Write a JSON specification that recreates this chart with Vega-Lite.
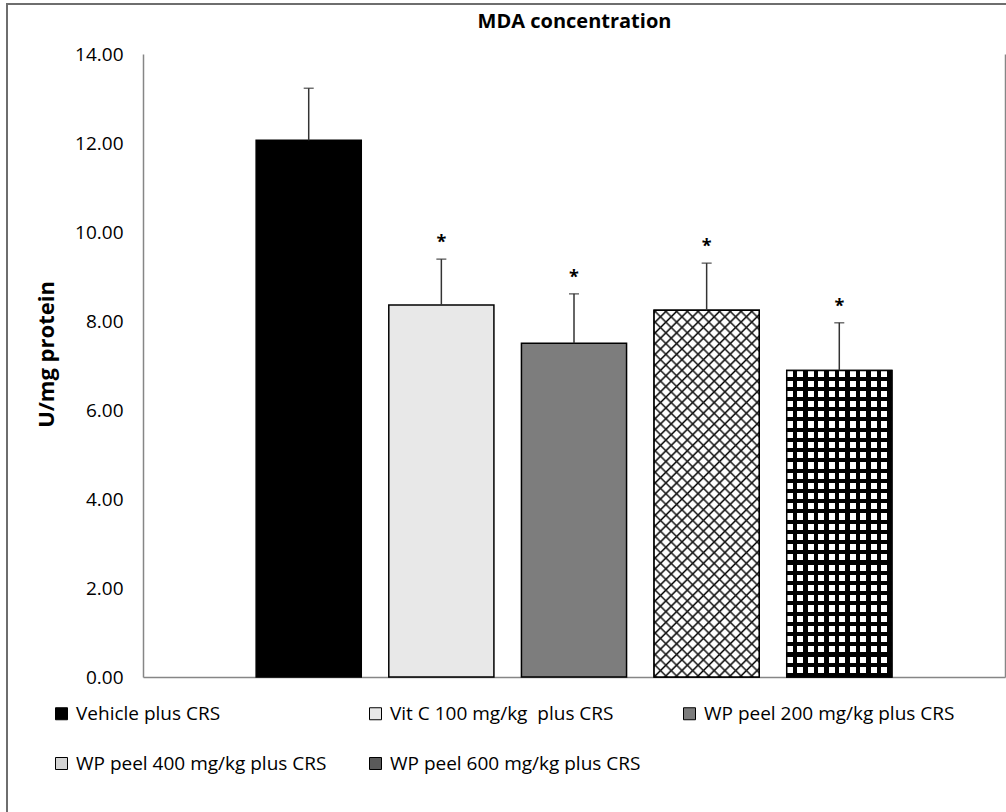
{
  "$schema": "https://vega.github.io/schema/vega-lite/v6.json",
  "width": 1009,
  "height": 818,
  "autosize": {"type": "none"},
  "padding": {"left": 7, "top": 4, "right": -10, "bottom": -10},
  "background": "white",
  "config": {
    "view": {"stroke": "#6e6e6e", "strokeWidth": 2},
    "font": "Open Sans"
  },
  "title": {
    "text": "MDA concentration",
    "font": "Open Sans",
    "fontSize": 20,
    "fontWeight": "bold",
    "color": "#000000",
    "anchor": "middle",
    "frame": "group",
    "baseline": "middle",
    "offset": 0,
    "dx": 63,
    "dy": 38
  },
  "data": {
    "values": [
      {"group": "Vehicle plus CRS", "mean": 12.06, "upper": 13.23, "star": ""},
      {"group": "Vit C 100 mg/kg\u00a0 plus CRS", "mean": 8.36, "upper": 9.39, "star": "*"},
      {"group": "WP peel 200 mg/kg plus CRS", "mean": 7.50, "upper": 8.61, "star": "*"},
      {"group": "WP peel 400 mg/kg plus CRS", "mean": 8.24, "upper": 9.30, "star": "*"},
      {"group": "WP peel 600 mg/kg plus CRS", "mean": 6.89, "upper": 7.96, "star": "*"}
    ]
  },
  "encoding": {
    "x": {
      "field": "group",
      "type": "nominal",
      "sort": null,
      "scale": {"range": [136, 998], "paddingInner": 0.2075, "paddingOuter": 0.853},
      "axis": {
        "orient": "bottom",
        "offset": -145,
        "labels": false,
        "ticks": false,
        "grid": false,
        "title": null,
        "domainColor": "#868686",
        "domainWidth": 1.5
      }
    }
  },
  "layer": [
    {
      "mark": {"type": "bar", "stroke": "#000000", "strokeWidth": 1.5},
      "encoding": {
        "y": {
          "field": "mean",
          "type": "quantitative",
          "scale": {"domain": [0, 14], "range": [673, 50], "nice": false, "zero": true},
          "axis": {
            "orient": "left",
            "offset": -136,
            "values": [0, 2, 4, 6, 8, 10, 12, 14],
            "format": ".2f",
            "ticks": false,
            "grid": false,
            "domainColor": "#868686",
            "domainWidth": 1.5,
            "labelFont": "Open Sans",
            "labelFontSize": 19,
            "labelColor": "#000000",
            "labelPadding": 20,
            "title": "U/mg protein",
            "titleFont": "Open Sans",
            "titleFontSize": 22,
            "titleFontWeight": "bold",
            "titleColor": "#000000",
            "titlePadding": 16,
            "titleY": 350
          }
        },
        "fill": {
          "field": "group",
          "type": "nominal",
          "scale": {
            "domain": ["Vehicle plus CRS", "Vit C 100 mg/kg\u00a0 plus CRS", "WP peel 200 mg/kg plus CRS", "WP peel 400 mg/kg plus CRS", "WP peel 600 mg/kg plus CRS"],
            "range": ["#000000", "#e8e8e8", "#7d7d7d", "#d4d4d4", "#5a5a5a"]
          },
          "legend": {
            "orient": "none",
            "legendX": 45,
            "legendY": 700,
            "direction": "horizontal",
            "columns": 3,
            "gridAlign": "all",
            "columnPadding": 39,
            "rowPadding": 30,
            "title": null,
            "symbolType": "square",
            "symbolSize": 144,
            "symbolStrokeColor": "#000000",
            "symbolStrokeWidth": 1,
            "labelFont": "Open Sans",
            "labelFontSize": 19,
            "labelColor": "#000000",
            "labelLimit": 0,
            "labelOffset": 5
          }
        }
      }
    },
    {
      "transform": [{"filter": "datum.group == 'WP peel 400 mg/kg plus CRS'"}],
      "mark": {
        "type": "bar",
        "stroke": null,
        "fill": {
          "gradient": "linear", "x1": 0, "y1": 0, "x2": 0.3404, "y2": 1.189,
          "stops": [
            {"offset": 0, "color": "#ffffff"}, {"offset": 0.0045, "color": "#000000"}, {"offset": 0.009, "color": "#ffffff"},
            {"offset": 0.02273, "color": "#ffffff"}, {"offset": 0.02723, "color": "#000000"}, {"offset": 0.03173, "color": "#ffffff"},
            {"offset": 0.04545, "color": "#ffffff"}, {"offset": 0.04995, "color": "#000000"}, {"offset": 0.05445, "color": "#ffffff"},
            {"offset": 0.06818, "color": "#ffffff"}, {"offset": 0.07268, "color": "#000000"}, {"offset": 0.07718, "color": "#ffffff"},
            {"offset": 0.09091, "color": "#ffffff"}, {"offset": 0.09541, "color": "#000000"}, {"offset": 0.09991, "color": "#ffffff"},
            {"offset": 0.11364, "color": "#ffffff"}, {"offset": 0.11814, "color": "#000000"}, {"offset": 0.12264, "color": "#ffffff"},
            {"offset": 0.13636, "color": "#ffffff"}, {"offset": 0.14086, "color": "#000000"}, {"offset": 0.14536, "color": "#ffffff"},
            {"offset": 0.15909, "color": "#ffffff"}, {"offset": 0.16359, "color": "#000000"}, {"offset": 0.16809, "color": "#ffffff"},
            {"offset": 0.18182, "color": "#ffffff"}, {"offset": 0.18632, "color": "#000000"}, {"offset": 0.19082, "color": "#ffffff"},
            {"offset": 0.20455, "color": "#ffffff"}, {"offset": 0.20905, "color": "#000000"}, {"offset": 0.21355, "color": "#ffffff"},
            {"offset": 0.22727, "color": "#ffffff"}, {"offset": 0.23177, "color": "#000000"}, {"offset": 0.23627, "color": "#ffffff"},
            {"offset": 0.25, "color": "#ffffff"}, {"offset": 0.2545, "color": "#000000"}, {"offset": 0.259, "color": "#ffffff"},
            {"offset": 0.27273, "color": "#ffffff"}, {"offset": 0.27723, "color": "#000000"}, {"offset": 0.28173, "color": "#ffffff"},
            {"offset": 0.29545, "color": "#ffffff"}, {"offset": 0.29995, "color": "#000000"}, {"offset": 0.30445, "color": "#ffffff"},
            {"offset": 0.31818, "color": "#ffffff"}, {"offset": 0.32268, "color": "#000000"}, {"offset": 0.32718, "color": "#ffffff"},
            {"offset": 0.34091, "color": "#ffffff"}, {"offset": 0.34541, "color": "#000000"}, {"offset": 0.34991, "color": "#ffffff"},
            {"offset": 0.36364, "color": "#ffffff"}, {"offset": 0.36814, "color": "#000000"}, {"offset": 0.37264, "color": "#ffffff"},
            {"offset": 0.38636, "color": "#ffffff"}, {"offset": 0.39086, "color": "#000000"}, {"offset": 0.39536, "color": "#ffffff"},
            {"offset": 0.40909, "color": "#ffffff"}, {"offset": 0.41359, "color": "#000000"}, {"offset": 0.41809, "color": "#ffffff"},
            {"offset": 0.43182, "color": "#ffffff"}, {"offset": 0.43632, "color": "#000000"}, {"offset": 0.44082, "color": "#ffffff"},
            {"offset": 0.45455, "color": "#ffffff"}, {"offset": 0.45905, "color": "#000000"}, {"offset": 0.46355, "color": "#ffffff"},
            {"offset": 0.47727, "color": "#ffffff"}, {"offset": 0.48177, "color": "#000000"}, {"offset": 0.48627, "color": "#ffffff"},
            {"offset": 0.5, "color": "#ffffff"}, {"offset": 0.5045, "color": "#000000"}, {"offset": 0.509, "color": "#ffffff"},
            {"offset": 0.52273, "color": "#ffffff"}, {"offset": 0.52723, "color": "#000000"}, {"offset": 0.53173, "color": "#ffffff"},
            {"offset": 0.54545, "color": "#ffffff"}, {"offset": 0.54995, "color": "#000000"}, {"offset": 0.55445, "color": "#ffffff"},
            {"offset": 0.56818, "color": "#ffffff"}, {"offset": 0.57268, "color": "#000000"}, {"offset": 0.57718, "color": "#ffffff"},
            {"offset": 0.59091, "color": "#ffffff"}, {"offset": 0.59541, "color": "#000000"}, {"offset": 0.59991, "color": "#ffffff"},
            {"offset": 0.61364, "color": "#ffffff"}, {"offset": 0.61814, "color": "#000000"}, {"offset": 0.62264, "color": "#ffffff"},
            {"offset": 0.63636, "color": "#ffffff"}, {"offset": 0.64086, "color": "#000000"}, {"offset": 0.64536, "color": "#ffffff"},
            {"offset": 0.65909, "color": "#ffffff"}, {"offset": 0.66359, "color": "#000000"}, {"offset": 0.66809, "color": "#ffffff"},
            {"offset": 0.68182, "color": "#ffffff"}, {"offset": 0.68632, "color": "#000000"}, {"offset": 0.69082, "color": "#ffffff"},
            {"offset": 0.70455, "color": "#ffffff"}, {"offset": 0.70905, "color": "#000000"}, {"offset": 0.71355, "color": "#ffffff"},
            {"offset": 0.72727, "color": "#ffffff"}, {"offset": 0.73177, "color": "#000000"}, {"offset": 0.73627, "color": "#ffffff"},
            {"offset": 0.75, "color": "#ffffff"}, {"offset": 0.7545, "color": "#000000"}, {"offset": 0.759, "color": "#ffffff"},
            {"offset": 0.77273, "color": "#ffffff"}, {"offset": 0.77723, "color": "#000000"}, {"offset": 0.78173, "color": "#ffffff"},
            {"offset": 0.79545, "color": "#ffffff"}, {"offset": 0.79995, "color": "#000000"}, {"offset": 0.80445, "color": "#ffffff"},
            {"offset": 0.81818, "color": "#ffffff"}, {"offset": 0.82268, "color": "#000000"}, {"offset": 0.82718, "color": "#ffffff"},
            {"offset": 0.84091, "color": "#ffffff"}, {"offset": 0.84541, "color": "#000000"}, {"offset": 0.84991, "color": "#ffffff"},
            {"offset": 0.86364, "color": "#ffffff"}, {"offset": 0.86814, "color": "#000000"}, {"offset": 0.87264, "color": "#ffffff"},
            {"offset": 0.88636, "color": "#ffffff"}, {"offset": 0.89086, "color": "#000000"}, {"offset": 0.89536, "color": "#ffffff"},
            {"offset": 0.90909, "color": "#ffffff"}, {"offset": 0.91359, "color": "#000000"}, {"offset": 0.91809, "color": "#ffffff"},
            {"offset": 0.93182, "color": "#ffffff"}, {"offset": 0.93632, "color": "#000000"}, {"offset": 0.94082, "color": "#ffffff"},
            {"offset": 0.95455, "color": "#ffffff"}, {"offset": 0.95905, "color": "#000000"}, {"offset": 0.96355, "color": "#ffffff"},
            {"offset": 0.97727, "color": "#ffffff"}, {"offset": 0.98177, "color": "#000000"}, {"offset": 0.98627, "color": "#ffffff"},
            {"offset": 1, "color": "#ffffff"}
          ]
        }
      },
      "encoding": {
        "y": {"field": "mean", "type": "quantitative", "axis": null}
      }
    },
    {
      "transform": [{"filter": "datum.group == 'WP peel 400 mg/kg plus CRS'"}],
      "mark": {
        "type": "bar",
        "stroke": "#000000",
        "strokeWidth": 1.5,
        "fill": {
          "gradient": "linear", "x1": 0, "y1": 1, "x2": 0.3404, "y2": -0.189,
          "stops": [
            {"offset": 0, "color": "rgba(0,0,0,0)"}, {"offset": 0.0045, "color": "#222222"}, {"offset": 0.009, "color": "rgba(0,0,0,0)"},
            {"offset": 0.02273, "color": "rgba(0,0,0,0)"}, {"offset": 0.02723, "color": "#222222"}, {"offset": 0.03173, "color": "rgba(0,0,0,0)"},
            {"offset": 0.04545, "color": "rgba(0,0,0,0)"}, {"offset": 0.04995, "color": "#222222"}, {"offset": 0.05445, "color": "rgba(0,0,0,0)"},
            {"offset": 0.06818, "color": "rgba(0,0,0,0)"}, {"offset": 0.07268, "color": "#222222"}, {"offset": 0.07718, "color": "rgba(0,0,0,0)"},
            {"offset": 0.09091, "color": "rgba(0,0,0,0)"}, {"offset": 0.09541, "color": "#222222"}, {"offset": 0.09991, "color": "rgba(0,0,0,0)"},
            {"offset": 0.11364, "color": "rgba(0,0,0,0)"}, {"offset": 0.11814, "color": "#222222"}, {"offset": 0.12264, "color": "rgba(0,0,0,0)"},
            {"offset": 0.13636, "color": "rgba(0,0,0,0)"}, {"offset": 0.14086, "color": "#222222"}, {"offset": 0.14536, "color": "rgba(0,0,0,0)"},
            {"offset": 0.15909, "color": "rgba(0,0,0,0)"}, {"offset": 0.16359, "color": "#222222"}, {"offset": 0.16809, "color": "rgba(0,0,0,0)"},
            {"offset": 0.18182, "color": "rgba(0,0,0,0)"}, {"offset": 0.18632, "color": "#222222"}, {"offset": 0.19082, "color": "rgba(0,0,0,0)"},
            {"offset": 0.20455, "color": "rgba(0,0,0,0)"}, {"offset": 0.20905, "color": "#222222"}, {"offset": 0.21355, "color": "rgba(0,0,0,0)"},
            {"offset": 0.22727, "color": "rgba(0,0,0,0)"}, {"offset": 0.23177, "color": "#222222"}, {"offset": 0.23627, "color": "rgba(0,0,0,0)"},
            {"offset": 0.25, "color": "rgba(0,0,0,0)"}, {"offset": 0.2545, "color": "#222222"}, {"offset": 0.259, "color": "rgba(0,0,0,0)"},
            {"offset": 0.27273, "color": "rgba(0,0,0,0)"}, {"offset": 0.27723, "color": "#222222"}, {"offset": 0.28173, "color": "rgba(0,0,0,0)"},
            {"offset": 0.29545, "color": "rgba(0,0,0,0)"}, {"offset": 0.29995, "color": "#222222"}, {"offset": 0.30445, "color": "rgba(0,0,0,0)"},
            {"offset": 0.31818, "color": "rgba(0,0,0,0)"}, {"offset": 0.32268, "color": "#222222"}, {"offset": 0.32718, "color": "rgba(0,0,0,0)"},
            {"offset": 0.34091, "color": "rgba(0,0,0,0)"}, {"offset": 0.34541, "color": "#222222"}, {"offset": 0.34991, "color": "rgba(0,0,0,0)"},
            {"offset": 0.36364, "color": "rgba(0,0,0,0)"}, {"offset": 0.36814, "color": "#222222"}, {"offset": 0.37264, "color": "rgba(0,0,0,0)"},
            {"offset": 0.38636, "color": "rgba(0,0,0,0)"}, {"offset": 0.39086, "color": "#222222"}, {"offset": 0.39536, "color": "rgba(0,0,0,0)"},
            {"offset": 0.40909, "color": "rgba(0,0,0,0)"}, {"offset": 0.41359, "color": "#222222"}, {"offset": 0.41809, "color": "rgba(0,0,0,0)"},
            {"offset": 0.43182, "color": "rgba(0,0,0,0)"}, {"offset": 0.43632, "color": "#222222"}, {"offset": 0.44082, "color": "rgba(0,0,0,0)"},
            {"offset": 0.45455, "color": "rgba(0,0,0,0)"}, {"offset": 0.45905, "color": "#222222"}, {"offset": 0.46355, "color": "rgba(0,0,0,0)"},
            {"offset": 0.47727, "color": "rgba(0,0,0,0)"}, {"offset": 0.48177, "color": "#222222"}, {"offset": 0.48627, "color": "rgba(0,0,0,0)"},
            {"offset": 0.5, "color": "rgba(0,0,0,0)"}, {"offset": 0.5045, "color": "#222222"}, {"offset": 0.509, "color": "rgba(0,0,0,0)"},
            {"offset": 0.52273, "color": "rgba(0,0,0,0)"}, {"offset": 0.52723, "color": "#222222"}, {"offset": 0.53173, "color": "rgba(0,0,0,0)"},
            {"offset": 0.54545, "color": "rgba(0,0,0,0)"}, {"offset": 0.54995, "color": "#222222"}, {"offset": 0.55445, "color": "rgba(0,0,0,0)"},
            {"offset": 0.56818, "color": "rgba(0,0,0,0)"}, {"offset": 0.57268, "color": "#222222"}, {"offset": 0.57718, "color": "rgba(0,0,0,0)"},
            {"offset": 0.59091, "color": "rgba(0,0,0,0)"}, {"offset": 0.59541, "color": "#222222"}, {"offset": 0.59991, "color": "rgba(0,0,0,0)"},
            {"offset": 0.61364, "color": "rgba(0,0,0,0)"}, {"offset": 0.61814, "color": "#222222"}, {"offset": 0.62264, "color": "rgba(0,0,0,0)"},
            {"offset": 0.63636, "color": "rgba(0,0,0,0)"}, {"offset": 0.64086, "color": "#222222"}, {"offset": 0.64536, "color": "rgba(0,0,0,0)"},
            {"offset": 0.65909, "color": "rgba(0,0,0,0)"}, {"offset": 0.66359, "color": "#222222"}, {"offset": 0.66809, "color": "rgba(0,0,0,0)"},
            {"offset": 0.68182, "color": "rgba(0,0,0,0)"}, {"offset": 0.68632, "color": "#222222"}, {"offset": 0.69082, "color": "rgba(0,0,0,0)"},
            {"offset": 0.70455, "color": "rgba(0,0,0,0)"}, {"offset": 0.70905, "color": "#222222"}, {"offset": 0.71355, "color": "rgba(0,0,0,0)"},
            {"offset": 0.72727, "color": "rgba(0,0,0,0)"}, {"offset": 0.73177, "color": "#222222"}, {"offset": 0.73627, "color": "rgba(0,0,0,0)"},
            {"offset": 0.75, "color": "rgba(0,0,0,0)"}, {"offset": 0.7545, "color": "#222222"}, {"offset": 0.759, "color": "rgba(0,0,0,0)"},
            {"offset": 0.77273, "color": "rgba(0,0,0,0)"}, {"offset": 0.77723, "color": "#222222"}, {"offset": 0.78173, "color": "rgba(0,0,0,0)"},
            {"offset": 0.79545, "color": "rgba(0,0,0,0)"}, {"offset": 0.79995, "color": "#222222"}, {"offset": 0.80445, "color": "rgba(0,0,0,0)"},
            {"offset": 0.81818, "color": "rgba(0,0,0,0)"}, {"offset": 0.82268, "color": "#222222"}, {"offset": 0.82718, "color": "rgba(0,0,0,0)"},
            {"offset": 0.84091, "color": "rgba(0,0,0,0)"}, {"offset": 0.84541, "color": "#222222"}, {"offset": 0.84991, "color": "rgba(0,0,0,0)"},
            {"offset": 0.86364, "color": "rgba(0,0,0,0)"}, {"offset": 0.86814, "color": "#222222"}, {"offset": 0.87264, "color": "rgba(0,0,0,0)"},
            {"offset": 0.88636, "color": "rgba(0,0,0,0)"}, {"offset": 0.89086, "color": "#222222"}, {"offset": 0.89536, "color": "rgba(0,0,0,0)"},
            {"offset": 0.90909, "color": "rgba(0,0,0,0)"}, {"offset": 0.91359, "color": "#222222"}, {"offset": 0.91809, "color": "rgba(0,0,0,0)"},
            {"offset": 0.93182, "color": "rgba(0,0,0,0)"}, {"offset": 0.93632, "color": "#222222"}, {"offset": 0.94082, "color": "rgba(0,0,0,0)"},
            {"offset": 0.95455, "color": "rgba(0,0,0,0)"}, {"offset": 0.95905, "color": "#222222"}, {"offset": 0.96355, "color": "rgba(0,0,0,0)"},
            {"offset": 0.97727, "color": "rgba(0,0,0,0)"}, {"offset": 0.98177, "color": "#222222"}, {"offset": 0.98627, "color": "rgba(0,0,0,0)"},
            {"offset": 1, "color": "rgba(0,0,0,0)"}
          ]
        }
      },
      "encoding": {
        "y": {"field": "mean", "type": "quantitative", "axis": null}
      }
    },
    {
      "transform": [{"filter": "datum.group == 'WP peel 600 mg/kg plus CRS'"}],
      "mark": {
        "type": "bar",
        "stroke": null,
        "fill": {
          "gradient": "linear", "x1": 0, "y1": 0, "x2": 0, "y2": 1,
          "stops": [
            {"offset": 0, "color": "#ffffff"}, {"offset": 0.02, "color": "#ffffff"}, {"offset": 0.02, "color": "#000000"}, {"offset": 0.03333, "color": "#000000"},
            {"offset": 0.03333, "color": "#ffffff"}, {"offset": 0.05333, "color": "#ffffff"}, {"offset": 0.05333, "color": "#000000"}, {"offset": 0.06667, "color": "#000000"},
            {"offset": 0.06667, "color": "#ffffff"}, {"offset": 0.08667, "color": "#ffffff"}, {"offset": 0.08667, "color": "#000000"}, {"offset": 0.1, "color": "#000000"},
            {"offset": 0.1, "color": "#ffffff"}, {"offset": 0.12, "color": "#ffffff"}, {"offset": 0.12, "color": "#000000"}, {"offset": 0.13333, "color": "#000000"},
            {"offset": 0.13333, "color": "#ffffff"}, {"offset": 0.15333, "color": "#ffffff"}, {"offset": 0.15333, "color": "#000000"}, {"offset": 0.16667, "color": "#000000"},
            {"offset": 0.16667, "color": "#ffffff"}, {"offset": 0.18667, "color": "#ffffff"}, {"offset": 0.18667, "color": "#000000"}, {"offset": 0.2, "color": "#000000"},
            {"offset": 0.2, "color": "#ffffff"}, {"offset": 0.22, "color": "#ffffff"}, {"offset": 0.22, "color": "#000000"}, {"offset": 0.23333, "color": "#000000"},
            {"offset": 0.23333, "color": "#ffffff"}, {"offset": 0.25333, "color": "#ffffff"}, {"offset": 0.25333, "color": "#000000"}, {"offset": 0.26667, "color": "#000000"},
            {"offset": 0.26667, "color": "#ffffff"}, {"offset": 0.28667, "color": "#ffffff"}, {"offset": 0.28667, "color": "#000000"}, {"offset": 0.3, "color": "#000000"},
            {"offset": 0.3, "color": "#ffffff"}, {"offset": 0.32, "color": "#ffffff"}, {"offset": 0.32, "color": "#000000"}, {"offset": 0.33333, "color": "#000000"},
            {"offset": 0.33333, "color": "#ffffff"}, {"offset": 0.35333, "color": "#ffffff"}, {"offset": 0.35333, "color": "#000000"}, {"offset": 0.36667, "color": "#000000"},
            {"offset": 0.36667, "color": "#ffffff"}, {"offset": 0.38667, "color": "#ffffff"}, {"offset": 0.38667, "color": "#000000"}, {"offset": 0.4, "color": "#000000"},
            {"offset": 0.4, "color": "#ffffff"}, {"offset": 0.42, "color": "#ffffff"}, {"offset": 0.42, "color": "#000000"}, {"offset": 0.43333, "color": "#000000"},
            {"offset": 0.43333, "color": "#ffffff"}, {"offset": 0.45333, "color": "#ffffff"}, {"offset": 0.45333, "color": "#000000"}, {"offset": 0.46667, "color": "#000000"},
            {"offset": 0.46667, "color": "#ffffff"}, {"offset": 0.48667, "color": "#ffffff"}, {"offset": 0.48667, "color": "#000000"}, {"offset": 0.5, "color": "#000000"},
            {"offset": 0.5, "color": "#ffffff"}, {"offset": 0.52, "color": "#ffffff"}, {"offset": 0.52, "color": "#000000"}, {"offset": 0.53333, "color": "#000000"},
            {"offset": 0.53333, "color": "#ffffff"}, {"offset": 0.55333, "color": "#ffffff"}, {"offset": 0.55333, "color": "#000000"}, {"offset": 0.56667, "color": "#000000"},
            {"offset": 0.56667, "color": "#ffffff"}, {"offset": 0.58667, "color": "#ffffff"}, {"offset": 0.58667, "color": "#000000"}, {"offset": 0.6, "color": "#000000"},
            {"offset": 0.6, "color": "#ffffff"}, {"offset": 0.62, "color": "#ffffff"}, {"offset": 0.62, "color": "#000000"}, {"offset": 0.63333, "color": "#000000"},
            {"offset": 0.63333, "color": "#ffffff"}, {"offset": 0.65333, "color": "#ffffff"}, {"offset": 0.65333, "color": "#000000"}, {"offset": 0.66667, "color": "#000000"},
            {"offset": 0.66667, "color": "#ffffff"}, {"offset": 0.68667, "color": "#ffffff"}, {"offset": 0.68667, "color": "#000000"}, {"offset": 0.7, "color": "#000000"},
            {"offset": 0.7, "color": "#ffffff"}, {"offset": 0.72, "color": "#ffffff"}, {"offset": 0.72, "color": "#000000"}, {"offset": 0.73333, "color": "#000000"},
            {"offset": 0.73333, "color": "#ffffff"}, {"offset": 0.75333, "color": "#ffffff"}, {"offset": 0.75333, "color": "#000000"}, {"offset": 0.76667, "color": "#000000"},
            {"offset": 0.76667, "color": "#ffffff"}, {"offset": 0.78667, "color": "#ffffff"}, {"offset": 0.78667, "color": "#000000"}, {"offset": 0.8, "color": "#000000"},
            {"offset": 0.8, "color": "#ffffff"}, {"offset": 0.82, "color": "#ffffff"}, {"offset": 0.82, "color": "#000000"}, {"offset": 0.83333, "color": "#000000"},
            {"offset": 0.83333, "color": "#ffffff"}, {"offset": 0.85333, "color": "#ffffff"}, {"offset": 0.85333, "color": "#000000"}, {"offset": 0.86667, "color": "#000000"},
            {"offset": 0.86667, "color": "#ffffff"}, {"offset": 0.88667, "color": "#ffffff"}, {"offset": 0.88667, "color": "#000000"}, {"offset": 0.9, "color": "#000000"},
            {"offset": 0.9, "color": "#ffffff"}, {"offset": 0.92, "color": "#ffffff"}, {"offset": 0.92, "color": "#000000"}, {"offset": 0.93333, "color": "#000000"},
            {"offset": 0.93333, "color": "#ffffff"}, {"offset": 0.95333, "color": "#ffffff"}, {"offset": 0.95333, "color": "#000000"}, {"offset": 0.96667, "color": "#000000"},
            {"offset": 0.96667, "color": "#ffffff"}, {"offset": 0.98667, "color": "#ffffff"}, {"offset": 0.98667, "color": "#000000"}, {"offset": 1, "color": "#000000"}
          ]
        }
      },
      "encoding": {
        "y": {"field": "mean", "type": "quantitative", "axis": null}
      }
    },
    {
      "transform": [{"filter": "datum.group == 'WP peel 600 mg/kg plus CRS'"}],
      "mark": {
        "type": "bar",
        "stroke": "#000000",
        "strokeWidth": 1.5,
        "fill": {
          "gradient": "linear", "x1": 0, "y1": 0, "x2": 1, "y2": 0,
          "stops": [
            {"offset": 0, "color": "rgba(0,0,0,0)"}, {"offset": 0.057, "color": "rgba(0,0,0,0)"}, {"offset": 0.057, "color": "#000000"}, {"offset": 0.1, "color": "#000000"},
            {"offset": 0.1, "color": "rgba(0,0,0,0)"}, {"offset": 0.157, "color": "rgba(0,0,0,0)"}, {"offset": 0.157, "color": "#000000"}, {"offset": 0.2, "color": "#000000"},
            {"offset": 0.2, "color": "rgba(0,0,0,0)"}, {"offset": 0.257, "color": "rgba(0,0,0,0)"}, {"offset": 0.257, "color": "#000000"}, {"offset": 0.3, "color": "#000000"},
            {"offset": 0.3, "color": "rgba(0,0,0,0)"}, {"offset": 0.357, "color": "rgba(0,0,0,0)"}, {"offset": 0.357, "color": "#000000"}, {"offset": 0.4, "color": "#000000"},
            {"offset": 0.4, "color": "rgba(0,0,0,0)"}, {"offset": 0.457, "color": "rgba(0,0,0,0)"}, {"offset": 0.457, "color": "#000000"}, {"offset": 0.5, "color": "#000000"},
            {"offset": 0.5, "color": "rgba(0,0,0,0)"}, {"offset": 0.557, "color": "rgba(0,0,0,0)"}, {"offset": 0.557, "color": "#000000"}, {"offset": 0.6, "color": "#000000"},
            {"offset": 0.6, "color": "rgba(0,0,0,0)"}, {"offset": 0.657, "color": "rgba(0,0,0,0)"}, {"offset": 0.657, "color": "#000000"}, {"offset": 0.7, "color": "#000000"},
            {"offset": 0.7, "color": "rgba(0,0,0,0)"}, {"offset": 0.757, "color": "rgba(0,0,0,0)"}, {"offset": 0.757, "color": "#000000"}, {"offset": 0.8, "color": "#000000"},
            {"offset": 0.8, "color": "rgba(0,0,0,0)"}, {"offset": 0.857, "color": "rgba(0,0,0,0)"}, {"offset": 0.857, "color": "#000000"}, {"offset": 0.9, "color": "#000000"},
            {"offset": 0.9, "color": "rgba(0,0,0,0)"}, {"offset": 0.957, "color": "rgba(0,0,0,0)"}, {"offset": 0.957, "color": "#000000"}, {"offset": 1, "color": "#000000"}
          ]
        }
      },
      "encoding": {
        "y": {"field": "mean", "type": "quantitative", "axis": null}
      }
    },
    {
      "mark": {"type": "rule", "color": "#333333", "strokeWidth": 1.5},
      "encoding": {
        "y": {
          "field": "upper",
          "type": "quantitative",
          "axis": {
            "orient": "right",
            "offset": -11,
            "labels": false,
            "ticks": false,
            "grid": false,
            "title": null,
            "domainColor": "#868686",
            "domainWidth": 1.5
          }
        },
        "y2": {"field": "mean"}
      }
    },
    {
      "mark": {"type": "tick", "color": "#333333", "thickness": 1.5, "size": 10, "orient": "horizontal"},
      "encoding": {
        "y": {"field": "upper", "type": "quantitative", "axis": null}
      }
    },
    {
      "mark": {"type": "text", "font": "Open Sans", "fontSize": 18, "fontWeight": "bold", "baseline": "alphabetic", "dy": -11, "color": "#000000"},
      "encoding": {
        "y": {"field": "upper", "type": "quantitative", "axis": null},
        "text": {"field": "star"}
      }
    }
  ],
  "resolve": {"axis": {"y": "independent"}}
}
